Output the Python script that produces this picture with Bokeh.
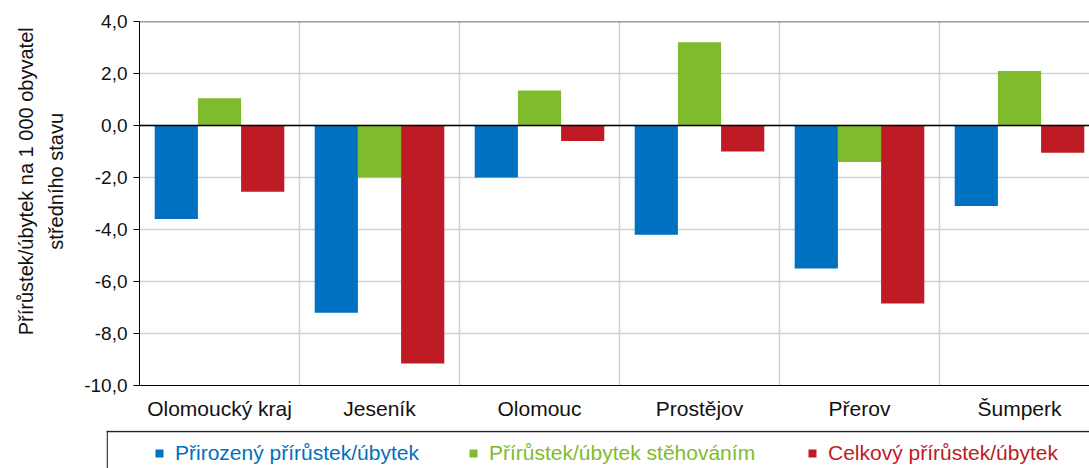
from bokeh.plotting import figure
from bokeh.layouts import column, row
from bokeh.models import (Range1d, FixedTicker, Span, Legend, LegendItem,
                          ColumnDataSource, Spacer)
from bokeh.transform import dodge
from bokeh.embed import file_html
from bokeh.resources import INLINE

# ---------------- data ----------------
categories = ["Olomoucký kraj", "Jeseník", "Olomouc", "Prostějov", "Přerov", "Šumperk"]
series_names = ["Přirozený přírůstek/úbytek", "Přírůstek/úbytek stěhováním", "Celkový přírůstek/úbytek"]
natural = [-3.6, -7.2, -2.0, -4.2, -5.5, -3.1]
migration = [1.05, -2.0, 1.35, 3.2, -1.4, 2.1]
total = [-2.55, -9.15, -0.6, -1.0, -6.85, -1.05]
y_ticks = [-10, -8, -6, -4, -2, 0, 2, 4]
y_title_lines = ["Přírůstek/úbytek na 1 000 obyvatel", "středního stavu"]
colors = ["#0070c0", "#80bb2d", "#be1b24"]

FONT = "Liberation Sans"

x_pos = [i + 0.5 for i in range(len(categories))]
source = ColumnDataSource(dict(x=x_pos, natural=natural, migration=migration, total=total))
cols = ["natural", "migration", "total"]

W = 1089
p = figure(width=W, height=430, output_backend="svg", toolbar_location=None,
           x_range=Range1d(0, (W - 139) / 160), y_range=Range1d(-10, 4),
           min_border_left=139, min_border_right=0, min_border_top=21, min_border_bottom=45)
p.outline_line_color = None

bw = 0.27
for col, off, c in zip(cols, [-bw, 0, bw], colors):
    p.vbar(x=dodge("x", off, range=p.x_range), top=col, bottom=0, width=bw, source=source,
           fill_color=c, line_color=None)

# grids
p.ygrid.ticker = FixedTicker(ticks=y_ticks)
p.ygrid.grid_line_color = "#d0d0d0"
p.ygrid.grid_line_width = 1.5
p.xgrid.ticker = FixedTicker(ticks=[1, 2, 3, 4, 5])
p.xgrid.grid_line_color = "#d0d0d0"
p.xgrid.grid_line_width = 1.5

p.add_layout(Span(location=0, dimension="width", line_color="black", line_width=1.5))
p.add_layout(Span(location=4, dimension="width", line_color="#404040", line_width=1.5))

# y axis
ya = p.yaxis[0]
ya.ticker = FixedTicker(ticks=y_ticks)
ya.major_label_overrides = {t: f"{t:.1f}".replace(".", ",") for t in y_ticks}
ya.major_label_text_font = FONT
ya.major_label_text_font_size = "19px"
ya.major_label_text_color = "#111111"
ya.axis_line_color = "black"
ya.major_tick_line_color = "black"
ya.major_tick_out = 6
ya.major_tick_in = 0
ya.minor_tick_line_color = None
ya.major_label_standoff = 6
# leading no-break spaces nudge the centred title upward, as in the original
pad = "\u00a0" * 8
ya.axis_label = "\n".join(pad + s for s in y_title_lines)
ya.axis_label_text_font = FONT
ya.axis_label_text_font_size = "20px"
ya.axis_label_text_font_style = "normal"
ya.axis_label_text_color = "#111111"
ya.axis_label_text_line_height = 1.35
ya.axis_label_standoff = 14

# x axis
xa = p.xaxis[0]
xa.ticker = FixedTicker(ticks=x_pos)
xa.major_label_overrides = {x: c for x, c in zip(x_pos, categories)}
xa.major_label_text_font = FONT
xa.major_label_text_font_size = "21px"
xa.major_label_text_color = "#111111"
xa.axis_line_color = "black"
xa.major_tick_line_color = None
xa.major_tick_out = 0
xa.major_tick_in = 0
xa.minor_tick_line_color = None
xa.major_label_standoff = 11

# ---------------- legend strip ----------------
LW = W - 106
LH = 38
q = figure(width=LW, height=LH, output_backend="svg", toolbar_location=None,
           x_range=Range1d(0, LW), y_range=Range1d(0, LH),
           min_border_left=0, min_border_right=0, min_border_top=0, min_border_bottom=0)
q.axis.visible = False
q.grid.visible = False
q.outline_line_color = None
q.add_layout(Span(location=LH - 1, dimension="width", line_color="#222222", line_width=1.3))
q.add_layout(Span(location=0.7, dimension="height", line_color="#222222", line_width=1.3))

lsrc = ColumnDataSource(dict(x=x_pos, natural=natural, migration=migration, total=total))
xs = [48, 362, 701]
for name, col, c, lx in zip(series_names, cols, colors, xs):
    r = q.vbar(x="x", top=col, width=0.5, source=lsrc, fill_color=c, line_color=None,
               visible=False)
    lg = Legend(items=[LegendItem(label=name, renderers=[r])], location=(lx, 3),
                orientation="horizontal", padding=0, margin=0, glyph_width=10, glyph_height=10,
                label_standoff=11, label_height=20, label_text_font=FONT,
                label_text_font_size="21px", label_text_color=c,
                border_line_color=None, background_fill_alpha=0)
    q.add_layout(lg, "center")

layout = column(p, row(Spacer(width=106, height=LH), q, spacing=0), spacing=0)

open("out.html", "w").write(file_html(layout, INLINE))
